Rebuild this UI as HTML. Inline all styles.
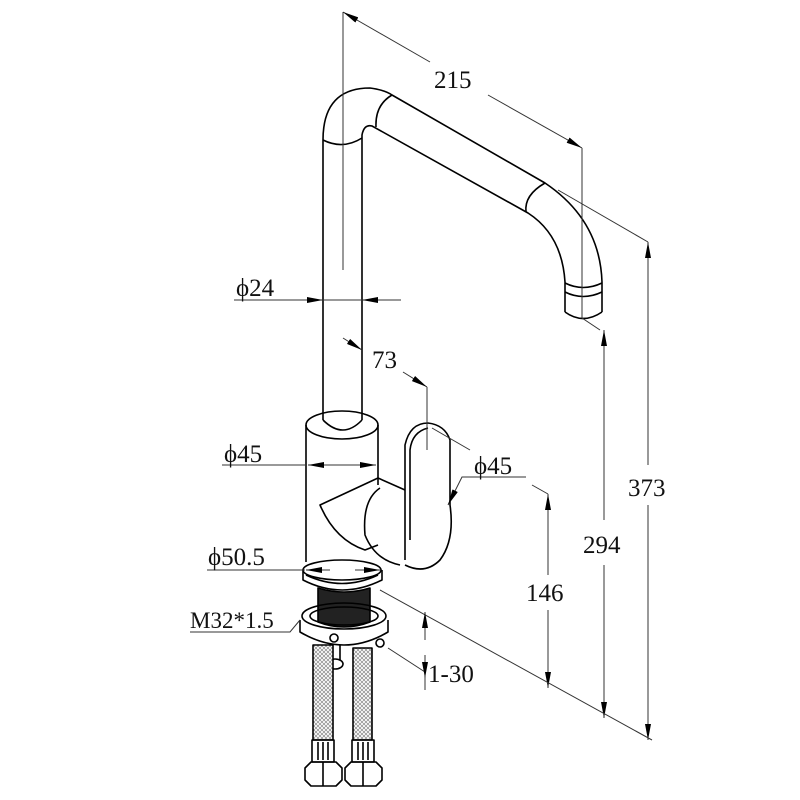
<!DOCTYPE html>
<html><head><meta charset="utf-8"><style>
html,body{margin:0;padding:0;background:#fff}
svg{display:block}
text{font-family:"Liberation Serif","DejaVu Serif",serif;font-size:25px;fill:#111}
</style></head><body>
<svg width="800" height="800" viewBox="0 0 800 800" xmlns="http://www.w3.org/2000/svg">
<defs>
<marker id="a" viewBox="0 0 16 6" refX="16" refY="3" markerWidth="16" markerHeight="6" markerUnits="userSpaceOnUse" orient="auto"><path d="M0,0 L16,3 L0,6 Z" fill="#000"/></marker>
<pattern id="br" width="4" height="4" patternUnits="userSpaceOnUse"><rect width="4" height="4" fill="#fff"/><path d="M0,0 L4,4 M4,0 L0,4" stroke="#888" stroke-width="0.7"/></pattern>
</defs>
<g fill="none" stroke="#000" stroke-width="1.6" stroke-linejoin="round">
<!-- spout -->
<path d="M323,420 L323,140 Q323,88 370,88 Q385,90 392,95 L545,183 Q600,220 602,282 L602,312"/>
<path d="M362,420 L362,135 Q364,124 372,126 L528,213 Q562,235 565,282 L565,312"/>
<path d="M323,140 Q343,150 362,138"/>
<path d="M392,95 Q375,105 376,127"/>
<path d="M545,183 Q524,195 526,212"/>
<path d="M565,283 Q583,292 602,283 M565,292 Q583,301 602,292"/>
<path d="M565,312 Q583,325 602,312"/>
<!-- body -->
<path d="M306,425 L306,562 M378,425 L378,485"/>
<ellipse cx="342" cy="425" rx="36" ry="14"/>
<path d="M323,420 Q343,440 362,420" />
<!-- wedge / lever base -->
<path d="M378,478 L320,505 Q335,540 365,550 L378,545"/>
<path d="M378,478 L405,490"/>
<path d="M380,488 Q362,500 365,535 Q375,560 400,565"/>
<!-- handle -->
<path d="M405,560 L405,445 Q410,423 428,423 Q445,425 450,440 L450,505 Q455,540 440,560 Q425,575 405,565"/>
<path d="M410,540 L410,450 Q412,432 428,428"/>
<!-- base ring -->
<path d="M303,570 L303,580 Q342,600 382,580 L382,570"/>
<ellipse cx="342" cy="570" rx="39" ry="10"/>
<path d="M306,575 Q342,592 378,575"/>
<!-- black thread -->
<path d="M318,588 L318,622 Q344,632 370,622 L370,588 Q344,596 318,588 Z" fill="#222"/>
<!-- lower plate -->
<ellipse cx="344" cy="616" rx="42" ry="13"/>
<ellipse cx="344" cy="616" rx="34" ry="9"/>
<path d="M300,620 L300,632 Q344,658 388,632 L388,620"/>
<!-- stud -->
<path d="M330,645 L330,660 M340,645 L340,660"/>
<ellipse cx="335" cy="664" rx="8" ry="5"/>
<circle cx="334" cy="638" r="4"/>
<circle cx="380" cy="643" r="4"/>
<!-- hoses -->
<rect x="313" y="645" width="20" height="95" fill="url(#br)"/>
<rect x="353" y="648" width="19" height="92" fill="url(#br)"/>
<rect x="312" y="740" width="22" height="22"/>
<rect x="352" y="740" width="22" height="22"/>
<path d="M318,742 V760 M323,742 V760 M328,742 V760 M358,742 V760 M363,742 V760 M368,742 V760"/>
<path d="M305,768 L311,762 L336,762 L342,768 L342,780 L336,786 L311,786 L305,780 Z"/>
<path d="M345,768 L351,762 L376,762 L382,768 L382,780 L376,786 L351,786 L345,780 Z"/>
<path d="M323,762 V786 M363,762 V786"/>
</g>
<g fill="none" stroke="#333" stroke-width="1">
<!-- center line -->
<path d="M343,12 L343,270"/>
<!-- 215 -->
<path d="M430,62 L343,12" marker-end="url(#a)"/>
<path d="M488,95 L582,148" marker-end="url(#a)"/>
<path d="M582,148 L582,318 L600,330"/>
<!-- 373 -->
<path d="M558,190 L648,242"/>
<path d="M648,465 L648,242" marker-end="url(#a)"/>
<path d="M648,505 L648,740" marker-end="url(#a)"/>
<!-- 294 -->
<path d="M604,520 L604,330" marker-end="url(#a)"/>
<path d="M604,565 L604,718" marker-end="url(#a)"/>
<!-- 146 -->
<path d="M532,485 L548,494"/>
<path d="M548,575 L548,494" marker-end="url(#a)"/>
<path d="M548,610 L548,688" marker-end="url(#a)"/>
<!-- base line -->
<path d="M380,590 L652,740"/>
<!-- φ24 -->
<path d="M234,300 L323,300" marker-end="url(#a)"/>
<path d="M401,300 L362,300" marker-end="url(#a)"/>
<path d="M323,300 L362,300"/>
<!-- 73 -->
<path d="M343,338 L362,350" marker-end="url(#a)"/>
<path d="M403,372 L427,387" marker-end="url(#a)"/>
<path d="M427,387 L427,450"/>
<!-- φ45 left -->
<path d="M222,465 L306,465"/>
<path d="M342,465 L308,465" marker-end="url(#a)"/>
<path d="M342,465 L376,465" marker-end="url(#a)"/>
<!-- φ45 right -->
<path d="M432,428 L470,450"/>
<path d="M526,477 L462,477 L448,505" marker-end="url(#a)"/>
<!-- φ50.5 -->
<path d="M207,570 L305,570"/>
<path d="M330,570 L306,570" marker-end="url(#a)"/>
<path d="M355,570 L380,570" marker-end="url(#a)"/>
<!-- M32 -->
<path d="M190,632 L290,632 L300,620"/>
<!-- 1-30 -->
<path d="M388,648 L425,672"/>
<path d="M425,640 L425,612" marker-end="url(#a)"/>
<path d="M425,655 L425,678" marker-end="url(#a)"/>
<path d="M425,678 L425,690"/>
</g>
<text x="434" y="88">215</text>
<text x="236" y="296">ϕ24</text>
<text x="372" y="368">73</text>
<text x="224" y="462">ϕ45</text>
<text x="474" y="474">ϕ45</text>
<text x="208" y="565">ϕ50.5</text>
<text x="190" y="628" style="font-size:23px">M32*1.5</text>
<text x="428" y="682">1-30</text>
<text x="526" y="601">146</text>
<text x="583" y="553">294</text>
<text x="628" y="496">373</text>
</svg>
</body></html>
